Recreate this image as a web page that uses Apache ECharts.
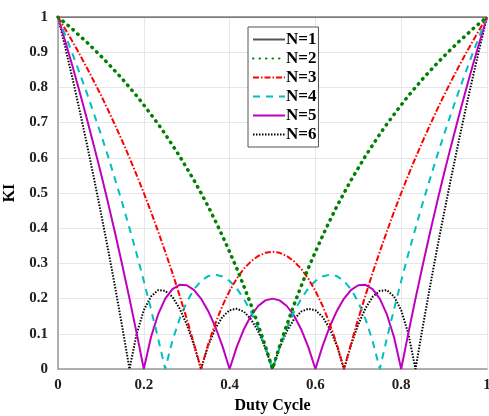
<!DOCTYPE html>
<html>
<head>
<meta charset="utf-8">
<script src="https://cdn.jsdelivr.net/npm/echarts@6/dist/echarts.min.js"></script>
<style>
  html, body { margin: 0; padding: 0; background: #fff; }
  #chart { width: 489px; height: 416px; }
</style>
</head>
<body>
<div id="chart"></div>
<script>
// 占空比 0..1，步长 1/60
const duty = Array.from({ length: 61 }, (_, k) => k / 60);

// 各相数 N 的纹波系数 KI
const ki1 = [1,1,1,1,1,1,1,1,1,1,1,1,1,1,1,1,1,1,1,1,1,1,1,1,1,1,1,1,1,1,1,
    1,1,1,1,1,1,1,1,1,1,1,1,1,1,1,1,1,1,1,1,1,1,1,1,1,1,1,1,1,1];
const ki2 = [1,0.983,0.966,0.947,0.929,0.909,0.889,0.868,0.846,0.824,0.8,0.776,0.75,0.723,0.696,0.667,
    0.636,0.605,0.571,0.537,0.5,0.462,0.421,0.378,0.333,0.286,0.235,0.182,0.125,0.065,0,
    0.065,0.125,0.182,0.235,0.286,0.333,0.378,0.421,0.462,0.5,0.537,0.571,0.605,0.636,
    0.667,0.696,0.723,0.75,0.776,0.8,0.824,0.846,0.868,0.889,0.909,0.929,0.947,0.966,0.983,1];
const ki3 = [1,0.966,0.931,0.895,0.857,0.818,0.778,0.736,0.692,0.647,0.6,0.551,0.5,0.447,0.391,0.333,
    0.273,0.209,0.143,0.073,0,0.07,0.129,0.18,0.222,0.257,0.285,0.306,0.321,0.33,0.333,
    0.33,0.321,0.306,0.285,0.257,0.222,0.18,0.129,0.07,0,0.073,0.143,0.209,0.273,
    0.333,0.391,0.447,0.5,0.551,0.6,0.647,0.692,0.736,0.778,0.818,0.857,0.895,0.931,0.966,1];
const ki4 = [1,0.949,0.897,0.842,0.786,0.727,0.667,0.604,0.538,0.471,0.4,0.327,0.25,0.17,0.087,0,
    0.08,0.142,0.19,0.226,0.25,0.264,0.268,0.263,0.25,0.229,0.199,0.162,0.116,0.062,0,
    0.062,0.116,0.162,0.199,0.229,0.25,0.263,0.268,0.264,0.25,0.226,0.19,0.142,0.08,
    0,0.087,0.17,0.25,0.327,0.4,0.471,0.538,0.604,0.667,0.727,0.786,0.842,0.897,0.949,1];
const ki5 = [1,0.932,0.862,0.789,0.714,0.636,0.556,0.472,0.385,0.294,0.2,0.102,0,0.09,0.155,0.2,
    0.227,0.239,0.238,0.225,0.2,0.165,0.12,0.065,0,0.063,0.113,0.152,0.179,0.195,0.2,
    0.195,0.179,0.152,0.113,0.063,0,0.065,0.12,0.165,0.2,0.225,0.238,0.239,0.227,
    0.2,0.155,0.09,0,0.102,0.2,0.294,0.385,0.472,0.556,0.636,0.714,0.789,0.862,0.932,1];
const ki6 = [1,0.915,0.828,0.737,0.643,0.545,0.444,0.34,0.231,0.118,0,0.1,0.167,0.206,0.224,0.222,
    0.205,0.172,0.127,0.069,0,0.066,0.115,0.148,0.167,0.171,0.163,0.141,0.107,0.06,0,
    0.06,0.107,0.141,0.163,0.171,0.167,0.148,0.115,0.066,0,0.069,0.127,0.172,0.205,
    0.222,0.224,0.206,0.167,0.1,0,0.118,0.231,0.34,0.444,0.545,0.643,0.737,0.828,0.915,1];

const seriesNames = ['N=1', 'N=2', 'N=3', 'N=4', 'N=5', 'N=6'];
const seriesValues = [ki1, ki2, ki3, ki4, ki5, ki6];
const xTicks = [0, 0.2, 0.4, 0.6, 0.8, 1];

const styles = [
    { color: '#555555', width: 1.5, type: 'solid' },
    { color: '#008000', width: 3.5, type: [0.5, 6], cap: 'round' },
    { color: '#ff0000', width: 2, type: [6, 2, 1.5, 2] },
    { color: '#00bfbf', width: 2, type: [7, 6] },
    { color: '#bf00bf', width: 2, type: 'solid' },
    { color: '#000000', width: 2, type: [1.5, 1.5] }
];

const font = 'Liberation Serif';
const chart = echarts.init(document.getElementById('chart'));

const option = {
    animation: false,
    grid: { left: 58, right: 2, top: 17, bottom: 47, outerBoundsMode: 'none' },
    legend: {
        data: seriesNames,
        orient: 'vertical',
        left: 248,
        top: 27,
        itemWidth: 32,
        itemHeight: 10,
        itemGap: 2,
        padding: [4, 2, 4, 4],
        borderColor: '#555',
        borderWidth: 1,
        backgroundColor: '#fff',
        itemStyle: { opacity: 0 },
        textStyle: { fontFamily: font, fontWeight: 'bold', fontSize: 17, color: '#000', padding: [0, 0, 0, -4] }
    },
    xAxis: {
        type: 'value',
        min: 0,
        max: 1,
        interval: 0.2,
        name: 'Duty Cycle',
        nameLocation: 'middle',
        nameGap: 29,
        nameTextStyle: { fontFamily: font, fontWeight: 'bold', fontSize: 16, color: '#000' },
        axisLine: { lineStyle: { color: '#999', width: 1.5 } },
        axisTick: { show: false },
        axisLabel: {
            fontFamily: font, fontWeight: 'bold', fontSize: 15, color: '#222', margin: 9,
            formatter: v => (xTicks.includes(Math.round(v * 10) / 10) ? String(Math.round(v * 10) / 10) : '')
        },
        splitLine: { show: true, lineStyle: { color: '#e6e6e6', width: 1 } }
    },
    yAxis: {
        type: 'value',
        min: 0,
        max: 1,
        interval: 0.1,
        name: 'KI',
        nameLocation: 'middle',
        nameGap: 27,
        nameTextStyle: { fontFamily: font, fontWeight: 'bold', fontSize: 16, color: '#000' },
        axisLine: { show: true, lineStyle: { color: '#999', width: 1.5 } },
        axisTick: { show: false },
        axisLabel: {
            fontFamily: font, fontWeight: 'bold', fontSize: 15, color: '#222', margin: 10,
            formatter: v => String(Math.round(v * 10) / 10)
        },
        splitLine: { show: true, lineStyle: { color: '#e6e6e6', width: 1 } }
    },
    series: seriesNames.map((name, i) => ({
        name: name,
        type: 'line',
        data: duty.map((d, k) => [d, seriesValues[i][k]]),
        showSymbol: false,
        symbol: 'none',
        smooth: false,
        color: styles[i].color,
        lineStyle: {
            color: styles[i].color,
            width: styles[i].width,
            type: styles[i].type,
            cap: styles[i].cap || 'butt'
        },
        z: 10 - i
    }))
};

chart.setOption(option);
</script>
</body>
</html>
